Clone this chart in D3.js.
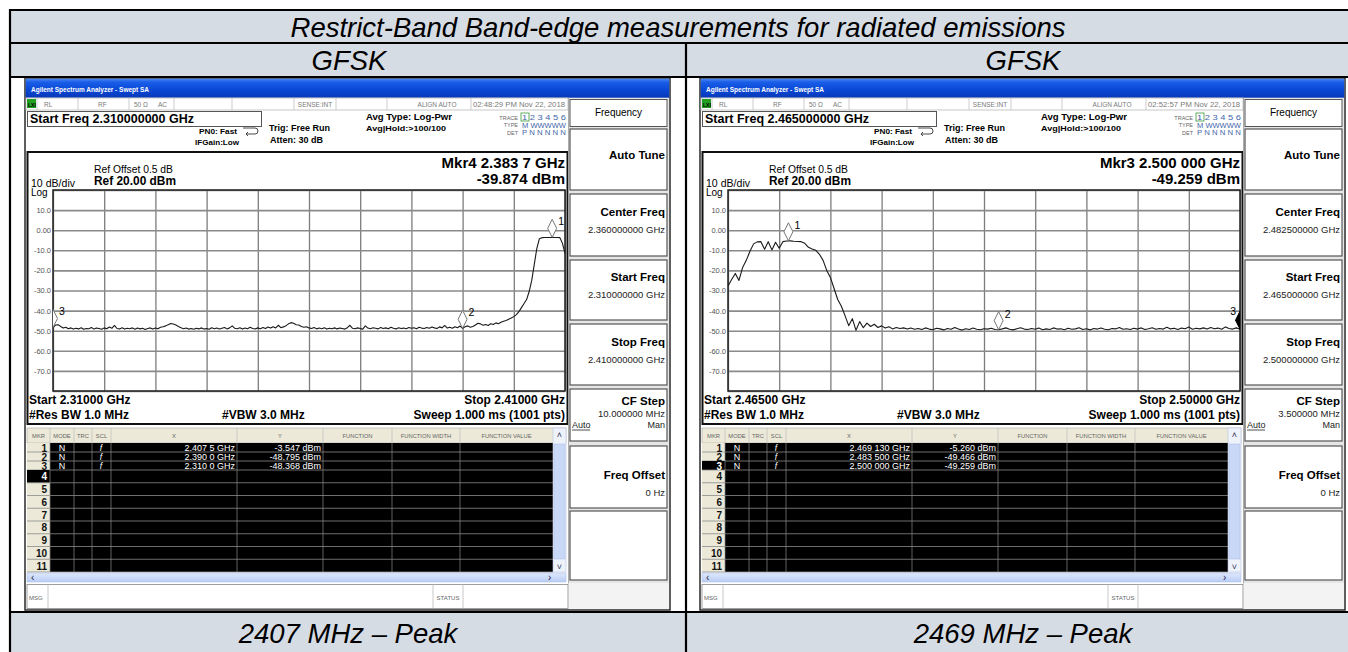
<!DOCTYPE html>
<html><head><meta charset="utf-8">
<script src="https://cdn.jsdelivr.net/npm/d3@7/dist/d3.min.js"></script>
<style>
html,body{margin:0;padding:0;background:#fff;overflow:hidden}
svg{display:block}
</style></head><body>
<svg id="chart" width="1348" height="652"></svg>
<script>
// ---------------- DATA ----------------
const tableTitle = "Restrict-Band Band-edge measurements for radiated emissions";
const modulations = ["GFSK", "GFSK"];
const captions = ["2407 MHz \u2013 Peak", "2469 MHz \u2013 Peak"];

const yTickValues = [10, 0, -10, -20, -30, -40, -50, -60, -70];
const yTickLabels = ["10.0", "0.00", "-10.0", "-20.0", "-30.0", "-40.0", "-50.0", "-60.0", "-70.0"];
const refLevelDbm = 20;
const bottomLevelDbm = -80;

// Left sweep: 2310 – 2410 MHz, levels every 0.5 MHz (dBm)
const leftSpanMHz = [2310, 2410];
const leftStepMHz = 0.5;
const leftLevels = [
  -48.4, -47.2, -47.0, -47.9, -48.7, -48.3, -49.0, -48.6, -49.2, -48.8,
  -49.1, -48.5, -49.3, -48.9, -49.0, -48.4, -49.2, -48.7, -48.9, -49.3,
  -48.6, -49.0, -48.2, -48.8, -47.4, -48.9, -49.1, -48.5, -49.2, -48.8,
  -49.0, -48.6, -49.3, -48.7, -49.1, -48.8, -49.4, -48.9, -48.6, -49.2,
  -48.7, -49.0, -48.3, -48.0, -47.6, -47.0, -46.4, -46.7, -47.2, -47.9,
  -48.5, -49.0, -48.7, -49.2, -48.9, -49.3, -48.8, -49.1, -48.6, -49.2,
  -48.9, -49.3, -48.5, -49.0, -48.7, -49.2, -48.8, -48.4, -49.1, -48.6,
  -47.6, -48.8, -49.0, -48.5, -49.2, -48.7, -49.0, -48.3, -48.9, -49.1,
  -48.6, -49.0, -48.4, -48.9, -48.2, -48.7, -48.0, -48.6, -47.3, -48.5,
  -48.1, -47.5, -46.6, -46.0, -46.3, -47.0, -47.2, -47.9, -48.3, -48.0,
  -48.6, -48.9, -48.4, -49.1, -48.7, -49.0, -48.5, -49.2, -48.8, -49.0,
  -48.6, -49.1, -48.7, -48.9, -49.2, -48.5, -47.3, -48.8, -49.0, -48.6,
  -48.9, -49.2, -47.6, -48.7, -49.0, -48.5, -48.8, -49.1, -48.4, -48.9,
  -48.6, -49.0, -48.3, -48.8, -49.1, -48.5, -48.9, -48.7, -49.0, -48.4,
  -48.8, -48.5, -49.0, -48.3, -48.7, -48.9, -48.4, -48.8, -48.2, -48.6,
  -48.9, -48.1, -48.6, -47.4, -48.7, -48.3, -48.8, -48.0, -48.5, -47.7,
  -48.8, -48.0, -47.6, -48.3, -47.9, -47.2, -46.3, -46.6, -47.3, -46.9,
  -47.4, -46.5, -46.9, -46.1, -46.5, -45.8, -45.3, -44.9, -44.3, -43.7,
  -43.0, -42.0, -40.5, -38.5, -36.5, -34.5, -30.5, -25.0, -17.0, -9.0,
  -4.2, -3.7, -3.6, -3.6, -3.6, -3.55, -3.6, -3.6, -3.7, -6.5,
  -11.5
];

// Right sweep: 2465 – 2500 MHz, levels every 0.25 MHz (dBm)
const rightSpanMHz = [2465, 2500];
const rightStepMHz = 0.25;
const rightLevels = [
  -27.8, -24.5, -21.5, -25.0, -18.5, -15.0, -10.5, -6.8, -5.8, -5.7,
  -9.5, -5.7, -9.8, -6.0, -9.0, -5.7, -5.4, -5.3, -5.5, -5.6,
  -5.7, -6.5, -8.5, -9.3, -10.0, -12.0, -15.0, -20.0, -23.5, -29.0,
  -34.5, -37.8, -42.5, -47.5, -44.0, -49.8, -45.5, -48.5, -46.2, -47.9,
  -46.8, -48.4, -47.6, -48.7, -48.0, -49.1, -48.4, -48.9, -48.6, -49.2,
  -48.7,
  -49.3, -48.9, -49.4, -48.6, -49.2, -49.5, -48.8, -49.1, -49.6, -48.9,
  -49.3, -48.4, -49.2, -49.7, -49.0, -49.4, -48.7, -49.3, -49.5, -49.0,
  -49.2, -48.8, -49.4, -49.5, -49.1, -48.6, -49.3, -49.6, -49.0, -48.5,
  -49.2, -49.4, -48.9, -49.3, -48.7, -49.5, -49.1, -49.4, -48.6, -49.2,
  -49.0, -49.5, -48.8, -49.3, -49.1, -48.5, -49.4, -49.0, -49.6, -48.9,
  -49.2, -48.7, -49.3, -49.5, -48.9, -49.1, -48.4, -49.3, -49.0, -49.4,
  -48.8, -49.2, -48.6, -49.4, -49.0, -48.5, -49.3, -48.9, -49.2, -48.3,
  -49.1, -48.8, -49.4, -48.7, -49.0, -48.2, -49.3, -48.8, -49.1, -48.6,
  -49.2, -48.4, -49.0, -48.7, -49.3, -48.1, -48.9, -49.2, -48.6, -49.3
];

// Markers: number, frequency (MHz), level (dBm)
const leftMarkers = [
  { n: "1", f: 2407.5, v: -3.547 },
  { n: "2", f: 2390.0, v: -48.795 },
  { n: "3", f: 2310.0, v: -48.368 }
];
const rightMarkers = [
  { n: "1", f: 2469.13, v: -5.260 },
  { n: "2", f: 2483.5, v: -49.466 },
  { n: "3", f: 2500.0, v: -49.259 }
];

// Marker table text
const leftRows = [
  ["1", "N", "f", "2.407 5 GHz", "-3.547 dBm"],
  ["2", "N", "f", "2.390 0 GHz", "-48.795 dBm"],
  ["3", "N", "f", "2.310 0 GHz", "-48.368 dBm"]
];
const rightRows = [
  ["1", "N", "f", "2.469 130 GHz", "-5.260 dBm"],
  ["2", "N", "f", "2.483 500 GHz", "-49.466 dBm"],
  ["3", "N", "f", "2.500 000 GHz", "-49.259 dBm"]
];

const panels = [
  {
    dx: 0, time: "02:48:29 PM Nov 22, 2018", startFreq: "Start Freq 2.310000000 GHz",
    mkrLine1: "Mkr4 2.383 7 GHz", mkrLine2: "-39.874 dBm",
    startLbl: "Start 2.31000 GHz", stopLbl: "Stop 2.41000 GHz",
    span: leftSpanMHz, step: leftStepMHz, levels: leftLevels, markers: leftMarkers,
    rows: leftRows, activeRow: 4, activeMarker: "4",
    center: "2.360000000 GHz", start: "2.310000000 GHz", stop: "2.410000000 GHz", cfStep: "10.000000 MHz"
  },
  {
    dx: 675, time: "02:52:57 PM Nov 22, 2018", startFreq: "Start Freq 2.465000000 GHz",
    mkrLine1: "Mkr3 2.500 000 GHz", mkrLine2: "-49.259 dBm",
    startLbl: "Start 2.46500 GHz", stopLbl: "Stop 2.50000 GHz",
    span: rightSpanMHz, step: rightStepMHz, levels: rightLevels, markers: rightMarkers,
    rows: rightRows, activeRow: 3, activeMarker: "3",
    center: "2.482500000 GHz", start: "2.465000000 GHz", stop: "2.500000000 GHz", cfStep: "3.500000 MHz"
  }
];

// ---------------- DRAW ----------------
const svg = d3.select("#chart");
const FONT = "'Liberation Sans', Arial, Helvetica, sans-serif";
const defs = svg.append("defs");
const tb = defs.append("linearGradient").attr("id", "titlebar").attr("x1", 0).attr("y1", 0).attr("x2", 0).attr("y2", 1);
[["0%", "#4a86f2"], ["18%", "#1a5ee8"], ["55%", "#0a4ad8"], ["100%", "#0838b8"]].forEach(s => tb.append("stop").attr("offset", s[0]).attr("stop-color", s[1]));
const sb = defs.append("linearGradient").attr("id", "hscroll").attr("x1", 0).attr("y1", 0).attr("x2", 0).attr("y2", 1);
[["0%", "#dfe8fb"], ["100%", "#b9cdf5"]].forEach(s => sb.append("stop").attr("offset", s[0]).attr("stop-color", s[1]));

// table frame
const TB = { x0: 10, x1: 1360, xm: 686, y0: 10, y1: 43, y2: 77, y3: 612, y4: 700 };
const rowFill = "#d6dce4";
svg.append("rect").attr("x", TB.x0).attr("y", TB.y0).attr("width", TB.x1 - TB.x0).attr("height", TB.y2 - TB.y0).attr("fill", rowFill);
svg.append("rect").attr("x", TB.x0).attr("y", TB.y3).attr("width", TB.x1 - TB.x0).attr("height", TB.y4 - TB.y3).attr("fill", rowFill);

function txt(g, x, y, s, o = {}) {
  const e = g.append("text").attr("x", x).attr("y", y).text(s)
    .attr("font-family", o.family || FONT).attr("font-size", o.size || 9)
    .attr("font-weight", o.weight || "normal").attr("font-style", o.style || "normal")
    .attr("text-anchor", o.anchor || "start").attr("fill", o.fill || "#000");
  if (o.len) e.attr("textLength", o.len).attr("lengthAdjust", "spacingAndGlyphs");
  return e;
}
function rect(g, x, y, w, h, fill, stroke, sw) {
  return g.append("rect").attr("x", x).attr("y", y).attr("width", w).attr("height", h)
    .attr("fill", fill || "none").attr("stroke", stroke || "none").attr("stroke-width", sw || 1);
}
function line(g, x1, y1, x2, y2, stroke, sw) {
  return g.append("line").attr("x1", x1).attr("y1", y1).attr("x2", x2).attr("y2", y2)
    .attr("stroke", stroke).attr("stroke-width", sw || 1);
}

txt(svg, 678, 36.5, tableTitle, { size: 27.5, style: "italic", anchor: "middle" });
txt(svg, 349, 70, modulations[0], { size: 27.5, style: "italic", anchor: "middle" });
txt(svg, 1023, 70, modulations[1], { size: 27.5, style: "italic", anchor: "middle" });
txt(svg, 348, 643, captions[0], { size: 27.5, style: "italic", anchor: "middle" });
txt(svg, 1023, 643, captions[1], { size: 27.5, style: "italic", anchor: "middle" });

function drawPanel(p, idx) {
  const g = svg.append("g").attr("transform", `translate(${p.dx},0)`);
  // screenshot frame
  rect(g, 25, 78, 645, 532, "#ffffff", "#2a2a2a", 1.5);
  // title bar
  rect(g, 25.75, 78.75, 643.5, 19, "url(#titlebar)");
  txt(g, 31, 91.5, "Agilent Spectrum Analyzer - Swept SA", { size: 8, weight: "bold", fill: "#fff", len: 118 });

  // status bar
  rect(g, 26, 98, 542, 12, "#fff", "#b8b8b8", 0.8);
  [37, 78, 129, 174, 232, 294, 336, 387, 471].forEach(x => line(g, x, 98, x, 110, "#c0c0c0", 0.8));
  rect(g, 27, 99, 9, 9, "#22a022");
  txt(g, 28, 106.5, "LXI", { size: 5, weight: "bold", fill: "#000" });
  const sty = { size: 6.5, fill: "#7a7a7a" };
  txt(g, 44, 106.5, "RL", sty);
  txt(g, 98, 106.5, "RF", sty);
  txt(g, 134, 106.5, "50 \u03A9", sty);
  txt(g, 158, 106.5, "AC", sty);
  txt(g, 315, 106.5, "SENSE:INT", Object.assign({ anchor: "middle" }, sty));
  txt(g, 437, 106.5, "ALIGN AUTO", Object.assign({ anchor: "middle" }, sty));
  txt(g, 473, 106.5, p.time, Object.assign({ len: 92 }, sty));

  // header settings
  rect(g, 27.5, 111.5, 234, 15, "#fff", "#555", 1);
  txt(g, 30, 123, p.startFreq, { size: 12.5, weight: "bold" });
  txt(g, 237, 134, "PN0: Fast", { size: 7.5, anchor: "end", weight: "bold", len: 38 });
  g.append("path").attr("d", "M243,128 h12 a3,3 0 0 1 0,6 h-9 m2,-2 l-2,2 l2,2").attr("fill", "none").attr("stroke", "#333").attr("stroke-width", 0.9);
  txt(g, 239, 145, "IFGain:Low", { size: 7.5, anchor: "end", weight: "bold", len: 44 });
  txt(g, 269, 131, "Trig: Free Run", { size: 8.5, weight: "bold", len: 61 });
  txt(g, 270, 143, "Atten: 30 dB", { size: 8.5, weight: "bold", len: 53 });
  txt(g, 366, 120, "Avg Type: Log-Pwr", { size: 8.5, weight: "bold", len: 86 });
  txt(g, 366, 130.5, "Avg|Hold:>100/100", { size: 8, weight: "bold", len: 80 });
  const ts = { size: 5.5, fill: "#666", anchor: "end" };
  txt(g, 518, 119.5, "TRACE", ts);
  txt(g, 518, 127, "TYPE", ts);
  txt(g, 518, 134.5, "DET", ts);
  rect(g, 521, 113, 8, 8, "none", "#3a9a3a", 0.8);
  txt(g, 522, 120, "1 2 3 4 5 6", { size: 8, fill: "#4466aa", len: 44 });
  txt(g, 522, 127.5, "M WWWWW", { size: 6.5, fill: "#4466aa", len: 44 });
  txt(g, 522, 135, "P N N N N N", { size: 7, fill: "#4466aa", len: 44 });

  // display box
  rect(g, 27.5, 152, 540, 272, "#fff", "#111", 2);
  txt(g, 94, 173, "Ref Offset 0.5 dB", { size: 10, len: 79 });
  txt(g, 94, 185, "Ref 20.00 dBm", { size: 12, weight: "bold", len: 82 });
  txt(g, 31, 187, "10 dB/div", { size: 10.5, len: 44 });
  txt(g, 31, 196, "Log", { size: 10 });
  txt(g, 565, 168, p.mkrLine1, { size: 15, weight: "bold", anchor: "end" });
  txt(g, 565, 184, p.mkrLine2, { size: 15, weight: "bold", anchor: "end" });

  // graticule
  const gx0 = 53, gx1 = 565, gy0 = 190, gy1 = 391;
  const x = d3.scaleLinear().domain(p.span).range([gx0, gx1]);
  const y = d3.scaleLinear().domain([bottomLevelDbm, refLevelDbm]).range([gy1, gy0]);
  const xDivs = d3.range(11).map(i => p.span[0] + i * (p.span[1] - p.span[0]) / 10);
  const yDivs = d3.range(bottomLevelDbm, refLevelDbm + 1, 10);

  const gridX = g.append("g").attr("transform", `translate(0,${gy1})`)
    .call(d3.axisBottom(x).tickValues(xDivs).tickSize(-(gy1 - gy0)).tickFormat(""));
  gridX.select(".domain").remove();
  gridX.selectAll("line").attr("stroke", "#7c7c7c").attr("stroke-width", 1.3);
  const gridY = g.append("g").attr("transform", `translate(${gx0},0)`)
    .call(d3.axisLeft(y).tickValues(yDivs).tickSize(-(gx1 - gx0)).tickFormat(""));
  gridY.select(".domain").remove();
  gridY.selectAll("line").attr("stroke", "#8a8a8a").attr("stroke-width", 1.6);

  const yLab = g.append("g").attr("transform", `translate(${gx0},0)`)
    .call(d3.axisLeft(y).tickValues(yTickValues).tickFormat((d, i) => yTickLabels[i]).tickSize(0).tickPadding(2));
  yLab.select(".domain").remove();
  yLab.selectAll("text").attr("font-family", FONT).attr("font-size", 7.5).attr("fill", "#555");

  rect(g, gx0, gy0, gx1 - gx0, gy1 - gy0, "none", "#222", 1.5);

  const clipId = "clip" + idx;
  defs.append("clipPath").attr("id", clipId).append("rect")
    .attr("x", gx0 + p.dx).attr("y", gy0).attr("width", gx1 - gx0).attr("height", gy1 - gy0);
  const plot = g.append("g").attr("clip-path", `url(#${clipId})`);
  // clipPath units are user space of referencing element -> element is inside g (translated), so use local coords
  plot.attr("clip-path", null);
  const cp2 = defs.append("clipPath").attr("id", clipId + "b").attr("clipPathUnits", "userSpaceOnUse");
  cp2.append("rect").attr("x", gx0).attr("y", gy0).attr("width", gx1 - gx0).attr("height", gy1 - gy0);
  plot.attr("clip-path", `url(#${clipId}b)`);

  const lineGen = d3.line().x((d, i) => x(p.span[0] + i * p.step)).y(d => y(d));
  plot.append("path").datum(p.levels).attr("d", lineGen)
    .attr("fill", "none").attr("stroke", "#1a1a1a").attr("stroke-width", 1.1).attr("stroke-linejoin", "round");

  // markers
  p.markers.forEach(m => {
    const mx = x(m.f), my = y(m.v);
    const active = m.n === p.activeMarker;
    plot.append("path").attr("d", `M${mx},${my} L${mx - 4.5},${my - 9} L${mx},${my - 18} L${mx + 4.5},${my - 9} Z`)
      .attr("fill", active ? "#000" : "#fff").attr("stroke", active ? "#000" : "#777").attr("stroke-width", 1);
    const atRight = mx > gx1 - 8;
    txt(plot, atRight ? mx - 4 : mx + 6, my - (atRight ? 14 : 12), m.n, { size: 10.5, anchor: atRight ? "end" : "start" });
  });

  // bottom annotation
  txt(g, 29, 404, p.startLbl, { size: 12, weight: "bold" });
  txt(g, 565, 404, p.stopLbl, { size: 12, weight: "bold", anchor: "end" });
  txt(g, 29, 419, "#Res BW 1.0 MHz", { size: 12, weight: "bold" });
  txt(g, 222, 419, "#VBW 3.0 MHz", { size: 12, weight: "bold" });
  txt(g, 565, 419, "Sweep  1.000 ms (1001 pts)", { size: 12, weight: "bold", anchor: "end" });

  // marker table
  const cols = [27, 50, 74, 92, 111, 237, 323, 392, 460, 553, 566];
  const hdr = ["MKR", "MODE", "TRC", "SCL", "X", "Y", "FUNCTION", "FUNCTION WIDTH", "FUNCTION VALUE"];
  rect(g, 27, 428, 539, 15, "#ece9d8", "#aaa", 0.6);
  hdr.forEach((h, i) => txt(g, (cols[i] + cols[i + 1]) / 2, 438, h, { size: 5.8, fill: "#666", anchor: "middle" }));
  cols.slice(1, 9).forEach(cx => line(g, cx, 428, cx, 443, "#bbb", 0.6));
  const rowTops = [443, 452, 461, 470, 482.75, 495.5, 508.25, 521, 533.75, 546.5, 559.25, 572];
  rect(g, 50, 443, 503, 129, "#000");
  rect(g, 27, 443, 23, 129, "#ece9d8");
  for (let r = 0; r < 11; r++) {
    const t0 = rowTops[r], t1 = rowTops[r + 1];
    if (r + 1 === p.activeRow) rect(g, 27, t0, 23, t1 - t0, "#000");
    line(g, 27, t1, 553, t1, "#8a8a8a", 0.8);
    txt(g, 47, t1 - (t1 - t0) / 2 + 4, String(r + 1), { size: 10, weight: "bold", anchor: "end", fill: (r + 1 === p.activeRow) ? "#fff" : "#111" });
  }
  cols.slice(1, 9).forEach(cx => line(g, cx, 443, cx, 572, "#8a8a8a", 0.7));
  p.rows.forEach((row, r) => {
    const yc = (rowTops[r] + rowTops[r + 1]) / 2 + 3.2;
    txt(g, 62, yc, row[1], { size: 9, fill: "#fff", anchor: "middle" });
    txt(g, 101, yc, row[2], { size: 8.5, fill: "#fff", anchor: "middle", style: "italic" });
    txt(g, 235, yc, row[3], { size: 9, fill: "#fff", anchor: "end" });
    txt(g, 321, yc, row[4], { size: 9, fill: "#fff", anchor: "end" });
  });
  // vertical scrollbar
  rect(g, 553, 428, 13, 144, "#eef2fb", "#b8c4dc", 0.6);
  rect(g, 554, 444, 11, 115, "#c9d8f6", "#a9bde6", 0.5);
  txt(g, 559.5, 438, "\u02C4", { size: 9, anchor: "middle", fill: "#335" });
  txt(g, 559.5, 570, "\u02C5", { size: 9, anchor: "middle", fill: "#335" });
  // horizontal scrollbar
  rect(g, 27, 573, 539, 9, "url(#hscroll)", "#a9bde6", 0.5);
  txt(g, 31, 581, "\u2039", { size: 10, fill: "#224" });
  txt(g, 548, 581, "\u203A", { size: 10, fill: "#224" });
  // message bar
  rect(g, 27, 584.5, 541, 24, "#fff", "#888", 0.8);
  line(g, 48, 584.5, 48, 608.5, "#bbb", 0.8);
  line(g, 433, 584.5, 433, 608.5, "#bbb", 0.8);
  line(g, 463, 584.5, 463, 608.5, "#bbb", 0.8);
  txt(g, 29, 600, "MSG", { size: 6, fill: "#666" });
  txt(g, 448, 600, "STATUS", { size: 6, fill: "#666", anchor: "middle" });

  // softkey panel
  rect(g, 568.5, 98, 100.5, 511, "#e6e6e6");
  line(g, 568.5, 98, 568.5, 609, "#999", 0.8);
  const kx = 570, kw = 97, kr = 665;
  rect(g, kx, 99.5, kw, 27, "#fff", "#555", 1);
  txt(g, kx + kw / 2, 116, "Frequency", { size: 10, anchor: "middle" });
  const keys = [
    { y: 129, h: 61, title: "Auto Tune", ty: 159 },
    { y: 194, h: 62, title: "Center Freq", ty: 216, val: p.center, vy: 233 },
    { y: 260, h: 60, title: "Start Freq", ty: 281, val: p.start, vy: 298 },
    { y: 324, h: 61, title: "Stop Freq", ty: 346, val: p.stop, vy: 363 },
    { y: 389, h: 52, title: "CF Step", ty: 405, val: p.cfStep, vy: 417 },
    { y: 446, h: 62, title: "Freq Offset", ty: 479, val: "0 Hz", vy: 496 },
    { y: 511, h: 69 }
  ];
  keys.forEach(k => {
    rect(g, kx, k.y, kw, k.h, "#fff", "#555", 1.2);
    if (k.title) txt(g, kr, k.ty, k.title, { size: 11.5, weight: "bold", anchor: "end" });
    if (k.val) txt(g, kr, k.vy, k.val, { size: 9.5, anchor: "end", fill: "#222" });
  });
  txt(g, 572, 428, "Auto", { size: 9, fill: "#222" });
  line(g, 572, 430, 590, 430, "#222", 0.8);
  txt(g, kr, 428, "Man", { size: 9, anchor: "end", fill: "#222" });
  rect(g, 568.5, 583, 100.5, 26, "#f3f3f3");
}
panels.forEach(drawPanel);

// table lines on top
const tl = svg.append("g").attr("stroke", "#000").attr("stroke-width", 2.2);
[TB.y0, TB.y1, TB.y2, TB.y3].forEach(yy => tl.append("line").attr("x1", TB.x0).attr("x2", TB.x1).attr("y1", yy).attr("y2", yy));
tl.append("line").attr("x1", TB.x0).attr("x2", TB.x0).attr("y1", TB.y0 - 1).attr("y2", TB.y4);
tl.append("line").attr("x1", TB.xm).attr("x2", TB.xm).attr("y1", TB.y1).attr("y2", TB.y4);
</script>
</body></html>
